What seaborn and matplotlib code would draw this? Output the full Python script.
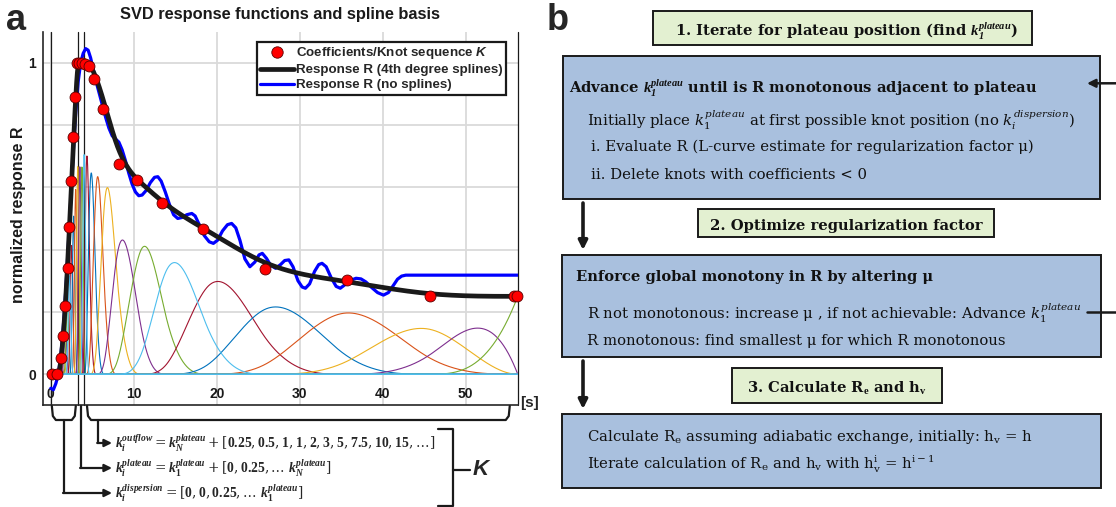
import numpy as np
import pandas as pd
import matplotlib
matplotlib.use("Agg")
import matplotlib.pyplot as plt
import seaborn as sns
from matplotlib.lines import Line2D
from matplotlib.patches import Rectangle

# ---------------- spline set-up ----------------
degree = 3
dispersion_knots = [0, 0, 0.25, 0.5, 0.75, 1.0, 1.25, 1.5, 1.75, 2.0, 2.25, 2.5, 2.75, 3.0]
plateau_knots = [3.25, 3.5, 3.75, 4.0]
outflow_knots = [4.25, 4.7, 5.5, 6.5, 8.0, 11.0, 14.0, 19.0, 26.0, 35.3, 45.5]
t_end = 56.3
spline_coefs = [0, 0, 0, 0, 0, 0, 0.053, 0.122, 0.22, 0.341, 0.474, 0.62, 0.761, 0.89,
                1.0, 1.0, 1.0, 1.0, 1.0, 0.99, 0.947, 0.85, 0.674, 0.61, 0.525, 0.45,
                0.33, 0.3, 0.25, 0.25, 0.25]

# coefficient markers
knot_t = [0.15, 0.76, 1.18, 1.47, 1.68, 2.05, 2.22, 2.47, 2.64, 2.89, 3.14, 3.40, 3.72,
          4.07, 4.55, 5.20, 6.33, 8.25, 10.35, 13.37, 18.30, 25.80, 35.75, 45.70, 55.85, 56.20]
knot_coef = [0.0, 0.0, 0.053, 0.122, 0.22, 0.341, 0.474, 0.62, 0.761, 0.89, 1.0, 1.0, 1.0,
             0.995, 0.99, 0.947, 0.85, 0.674, 0.622, 0.55, 0.466, 0.337, 0.302, 0.25, 0.25, 0.25]

# unconstrained SVD deconvolution
raw_t = [0.0, 0.3, 0.6, 0.9, 1.2, 1.5, 1.8, 2.1, 2.4, 2.7, 3.0, 3.3, 3.6, 3.9, 4.2,
         4.5, 4.8, 5.1, 5.4, 5.8, 6.2, 6.6, 7.0, 7.4, 7.8, 8.2, 8.6, 9.0, 9.4, 9.8,
         10.2, 10.6, 11.0, 11.5, 12.0, 12.5, 12.9, 13.3, 13.8, 14.3, 14.8, 15.3, 15.8, 16.4, 17.0,
         17.4, 17.9, 18.5, 19.1, 19.6, 20.1, 20.7, 21.3, 21.8, 22.3, 22.8, 23.4, 24.0, 24.6, 25.1,
         25.5, 26.0, 26.5, 27.1, 27.7, 28.2, 28.7, 29.2, 29.8, 30.3, 30.7, 31.2, 31.8, 32.3, 32.7,
         33.2, 33.8, 34.4, 34.9, 35.5, 36.2, 36.8, 37.4, 38.0, 38.7, 39.4, 40.1, 40.7, 41.3, 41.8,
         42.3, 42.8, 44.0, 50.0, 56.3]
raw_r = [-0.045, -0.05, -0.03, 0.0, 0.06, 0.15, 0.27, 0.41, 0.56, 0.71, 0.84, 0.94, 1.0, 1.03, 1.045,
         1.04, 1.015, 0.98, 0.945, 0.905, 0.865, 0.825, 0.79, 0.765, 0.755, 0.745, 0.72, 0.685, 0.645, 0.61,
         0.585, 0.573, 0.575, 0.59, 0.615, 0.632, 0.634, 0.62, 0.585, 0.545, 0.512, 0.5, 0.503, 0.512, 0.516,
         0.508, 0.48, 0.445, 0.425, 0.42, 0.43, 0.46, 0.48, 0.484, 0.47, 0.43, 0.37, 0.345, 0.36, 0.383,
         0.388, 0.372, 0.35, 0.34, 0.352, 0.365, 0.367, 0.345, 0.3, 0.28, 0.276, 0.29, 0.33, 0.352, 0.356,
         0.345, 0.31, 0.282, 0.276, 0.288, 0.302, 0.308, 0.306, 0.296, 0.278, 0.262, 0.254, 0.262, 0.285, 0.305,
         0.315, 0.318, 0.318, 0.318, 0.318]

outflow_steps = ["0.25", "0.5", "1", "1", "2", "3", "5", "7.5", "10", "15"]
x_ticks = [0, 10, 20, 30, 40, 50]
y_ticks = [0, 0.2, 0.4, 0.6, 0.8, 1.0]
y_ticklabels = ["0", "", "", "", "", "1"]

matlab_colors = ["#0072BD", "#D95319", "#EDB120", "#7E2F8E", "#77AC30", "#4DBEEE", "#A2142F"]

sns.set_theme(style="white")
plt.rcParams.update({
    "font.family": ["Liberation Sans", "DejaVu Sans"],
    "mathtext.fontset": "custom",
    "mathtext.rm": "DejaVu Serif",
    "mathtext.it": "DejaVu Serif:italic",
    "mathtext.bf": "Liberation Serif:bold",
    "mathtext.bfit": "Liberation Serif:italic:bold",
    "mathtext.sf": "Liberation Sans:italic:bold",
})


def bspline_basis(t, p, x):
    """Cox-de Boor evaluation of all B-splines of degree p on knot vector t."""
    t = np.asarray(t, float)
    m = len(t) - 1
    B = np.zeros((m, x.size))
    for i in range(m):
        if t[i] < t[i + 1]:
            B[i] = (x >= t[i]) & (x < t[i + 1])
    last = np.nonzero(t[:-1] < t[1:])[0][-1]
    B[last, x >= t[last + 1]] = 1.0
    for k in range(1, p + 1):
        nb = np.zeros((m - k, x.size))
        for i in range(m - k):
            d1 = t[i + k] - t[i]
            d2 = t[i + k + 1] - t[i + 1]
            if d1 > 0:
                nb[i] += (x - t[i]) / d1 * B[i]
            if d2 > 0:
                nb[i] += (t[i + k + 1] - x) / d2 * B[i + 1]
        B = nb
    return B


knots = np.array([0.0] * (degree - 1) + dispersion_knots + plateau_knots
                 + outflow_knots + [t_end] * (degree + 1))
tt = np.linspace(0, t_end, 2500)
coefs = np.asarray(spline_coefs)
scaled = bspline_basis(knots, degree, tt) * coefs[:, None]
response = scaled.sum(axis=0)

names = [f"B{j:02d}" for j in range(len(coefs))]
basis_df = pd.DataFrame({
    "t": np.tile(tt, len(coefs)),
    "value": scaled.ravel(),
    "basis": np.repeat(names, len(tt)),
})
palette = {nm: matlab_colors[(j + 2) % 7] for j, nm in enumerate(names)}
order = [nm for j, nm in enumerate(names) if (j + 2) % 7 != 5] + \
        [nm for j, nm in enumerate(names) if (j + 2) % 7 == 5]

# ---------------- figure ----------------
W, H = 1116, 507
fig = plt.figure(figsize=(W / 100, H / 100), dpi=100)
ax = fig.add_axes([42.55 / W, (H - 405.4) / H, 475.2 / W, 373.9 / H])
ax.set_xlim(-1, t_end)
ax.set_ylim(-0.1, 1.1)

ax.grid(True, color="#dadada", lw=1.3)
ax.set_axisbelow(True)

for v in [dispersion_knots[0], plateau_knots[0], plateau_knots[-1], t_end]:
    ax.axvline(v, color="k", lw=0.9, zorder=1.8, clip_on=False)

sns.lineplot(data=basis_df, x="t", y="value", hue="basis", hue_order=order,
             palette=palette, estimator=None, sort=False, legend=False,
             lw=0.8, ax=ax)
sns.lineplot(x=raw_t, y=raw_r, color="#0000FF", lw=2.3, ax=ax, zorder=3)
sns.lineplot(x=tt, y=response, color="k", lw=3.4, ax=ax, zorder=4)
sns.scatterplot(x=knot_t, y=knot_coef, s=62, color="#FF0000", edgecolor="#5a0000",
                linewidth=0.6, zorder=5, clip_on=False, ax=ax)

ax.set_xlabel("")
ax.set_ylabel("")
ax.set_xticks(x_ticks)
ax.set_xticklabels([str(v) for v in x_ticks])
ax.set_yticks(y_ticks)
ax.set_yticklabels(y_ticklabels)
ax.tick_params(direction="in", length=5, width=1, color="#262626",
               labelsize=10, labelcolor="#1a1a1a")
ax.tick_params(axis="x", pad=-13)
ax.tick_params(axis="y", pad=4.5)
for lab in ax.get_xticklabels() + ax.get_yticklabels():
    lab.set_fontweight("bold")
for side in ["top", "right"]:
    ax.spines[side].set_visible(False)
for side in ["left", "bottom"]:
    ax.spines[side].set_color("#262626")
    ax.spines[side].set_linewidth(1.2)

handles = [
    Line2D([], [], ls="none", marker="o", ms=8.2, mfc="#FF0000", mec="#5a0000", mew=0.6),
    Line2D([], [], color="k", lw=3.4),
    Line2D([], [], color="#0000FF", lw=2.3),
]
labels = [r"Coefficients/Knot sequence $\mathsf{K}$",
          "Response R (4th degree splines)", "Response R (no splines)"]
leg = ax.legend(handles, labels, loc="upper right", bbox_to_anchor=(0.9757, 0.9727),
                borderaxespad=0, fancybox=False, framealpha=1, edgecolor="k",
                prop={"family": "Liberation Sans", "weight": "bold", "size": 9.6},
                handlelength=2.55, handletextpad=0.12, labelspacing=0.2, borderpad=0.28)
leg.get_frame().set_linewidth(1.6)
leg.set_zorder(10)

# ---------------- overlay in pixel coordinates ----------------
ov = fig.add_axes([0, 0, 1, 1])
ov.set_xlim(0, W)
ov.set_ylim(H, 0)
ov.axis("off")
renderer = fig.canvas.get_renderer()


def fit(t, target, dim="w"):
    for _ in range(3):
        bb = t.get_window_extent(renderer)
        cur = bb.width if dim == "w" else bb.height
        t.set_fontsize(t.get_fontsize() * target / cur)
    return t


def xpx(v):
    return ax.transData.transform((v, 0.0))[0]


fit(ov.text(280.2, 14, "SVD response functions and spline basis", ha="center",
            va="center", fontweight="bold", fontsize=10.5, color="#1a1a1a"), 319)
fit(ov.text(19, 215, "normalized response R", rotation=90, ha="center", va="center",
            fontweight="bold", fontsize=10, color="#1a1a1a"), 176, "h")
ov.text(529.5, 403, "[s]", ha="center", va="center", fontweight="bold", fontsize=11)
ov.text(6, 30, "a", fontsize=26, fontweight="bold", va="baseline")
ov.text(547, 30, "b", fontsize=26, fontweight="bold", va="baseline")

# braces below the time axis
lw_br = 1.6
k0, k1, kN, kE = (xpx(dispersion_knots[0]), xpx(plateau_knots[0]),
                  xpx(plateau_knots[-1]), xpx(t_end))


def brace(l, r):
    ov.plot([l, l + 1, l + 4, r - 4, r - 1, r], [406, 416, 420, 420, 416, 406],
            color="k", lw=lw_br, solid_joinstyle="round", solid_capstyle="round")


def elbow(x, y0, y1, x_end):
    ov.plot([x, x], [y0, y1], color="k", lw=lw_br)
    ov.annotate("", xy=(x_end, y1), xytext=(x - 0.8, y1),
                arrowprops=dict(arrowstyle="-|>", color="k", lw=lw_br,
                                mutation_scale=11, shrinkA=0, shrinkB=0))


brace(k0 + 1, k1 - 2)
brace(kN + 3, kE - 8)
elbow((k0 + k1) / 2 - 0.5, 420, 493, 112)
elbow(xpx((plateau_knots[0] + plateau_knots[-1]) / 2), 406, 468, 112)
elbow(kN + 14, 420, 443, 112)

sep = ","
steps_tex = sep.join(r"\mathbf{%s}" % s for s in outflow_steps)
f_out = (r"$\mathbfit{k}_{\mathbfit{i}}^{\mathbfit{outflow}} = "
         r"\mathbfit{k}_{\mathbfit{N}}^{\mathbfit{plateau}} + [" + steps_tex + sep + r"\ldots]$")
f_pla = (r"$\mathbfit{k}_{\mathbfit{i}}^{\mathbfit{plateau}} = "
         r"\mathbfit{k}_{\mathbf{1}}^{\mathbfit{plateau}} + [\mathbf{0}" + sep + r"\mathbf{0.25}" + sep +
         r"\ldots\ \mathbfit{k}_{\mathbfit{N}}^{\mathbfit{plateau}}]$")
f_dis = (r"$\mathbfit{k}_{\mathbfit{i}}^{\mathbfit{dispersion}} = [\mathbf{0}" + sep + r"\mathbf{0}" + sep +
         r"\mathbf{0.25}" + sep + r"\ldots\ \mathbfit{k}_{\mathbf{1}}^{\mathbfit{plateau}}]$")
t_out = fit(ov.text(115, 443, f_out, ha="left", va="center", fontsize=11), 320)
for s, y in [(f_pla, 468), (f_dis, 493)]:
    ov.text(115, y, s, ha="left", va="center", fontsize=t_out.get_fontsize())

ov.plot([438.3, 453.3, 453.3, 438.3], [429.3, 429.3, 506.3, 506.3], color="k", lw=lw_br)
ov.plot([453.3, 470], [469.5, 469.5], color="k", lw=lw_br)
ov.text(473, 469.5, "K", fontstyle="italic", fontweight="bold", fontsize=16,
        ha="left", va="center")

# ---------------- flow chart ----------------
blue_fill = "#A9C0DE"
green_fill = "#E3F0D1"


def box(x0, y0, x1, y1, fc):
    ov.add_patch(Rectangle((x0, y0), x1 - x0, y1 - y0, facecolor=fc,
                           edgecolor="k", lw=1.4))


box(652.8, 10.7, 1032.3, 45.0, green_fill)
box(562.8, 56.0, 1100.3, 199.0, blue_fill)
box(698.0, 209.3, 993.7, 236.7, green_fill)
box(562.0, 255.0, 1101.0, 357.3, blue_fill)
box(731.8, 368.3, 941.5, 402.7, green_fill)
box(562.0, 414.0, 1101.0, 487.7, blue_fill)

k1p_b = r"$\mathbfit{k}_{\mathbfit{1}}^{\mathbfit{plateau}}$"
k1p = r"$\mathit{k}_{\mathit{1}}^{\mathit{plateau}}$"
kid = r"$\mathit{k}_{\mathit{i}}^{\mathit{dispersion}}$"
lines = [
    (845.9, 28.3, "center", True, "1. Iterate for plateau position (find " + k1p_b + ")", 343),
    (569.4, 85.0, "left", True, "Advance " + k1p_b + " until is R monotonous adjacent to plateau", 477),
    (586.7, 117.3, "left", False, "Initially place " + k1p + " at first possible knot position (no " + kid + ")", 490),
    (591.4, 145.7, "left", False, "i. Evaluate R (L-curve estimate for regularization factor \u03bc)", 443),
    (591.4, 173.3, "left", False, "ii. Delete knots with coefficients < 0", 272),
    (845.9, 224.5, "center", True, "2. Optimize regularization factor", 266),
    (575.6, 275.7, "left", True, "Enforce global monotony in R by altering \u03bc", 348),
    (586.7, 310.7, "left", False, "R not monotonous: increase \u03bc , if not achievable: Advance " + k1p, 495),
    (586.7, 339.0, "left", False, "R monotonous: find smallest \u03bc for which R monotonous", 424),
    (836.6, 386.0, "center", True, r"3. Calculate R$_\mathbf{e}$ and h$_\mathbf{v}$", 181),
    (586.7, 435.0, "left", False, r"Calculate R$_\mathrm{e}$ assuming adiabatic exchange, initially: h$_\mathrm{v}$ = h", 433),
    (586.7, 461.7, "left", False, r"Iterate calculation of R$_\mathrm{e}$ and h$_\mathrm{v}$ with h$_\mathrm{v}^\mathrm{i}$ = h$^\mathrm{i-1}$", 332),
]
objs = []
for x, y, ha, bold, s, target in lines:
    t = ov.text(x, y, s, ha=ha, va="center_baseline", family="DejaVu Serif",
                fontweight="bold" if bold else "normal", fontsize=10, color="#111111")
    objs.append((t, bold, target))
ratios = {True: [], False: []}
for t, bold, target in objs:
    ratios[bold].append(target / t.get_window_extent(renderer).width)
for t, bold, target in objs:
    t.set_fontsize(10 * float(np.median(ratios[bold])))

arrow_kw = dict(arrowstyle="-|>", color="k", shrinkA=0, shrinkB=0)
ov.annotate("", xy=(1087, 83.3), xytext=(1116, 83.3),
            arrowprops=dict(lw=1.8, mutation_scale=12, **arrow_kw), annotation_clip=False)
ov.plot([1087, 1116], [311.7, 311.7], color="k", lw=1.8)
ov.annotate("", xy=(583, 250), xytext=(583, 203),
            arrowprops=dict(lw=2.6, mutation_scale=13, **arrow_kw))
ov.annotate("", xy=(583, 409), xytext=(583, 361),
            arrowprops=dict(lw=2.6, mutation_scale=13, **arrow_kw))

fig.savefig("out.png", dpi=100)
